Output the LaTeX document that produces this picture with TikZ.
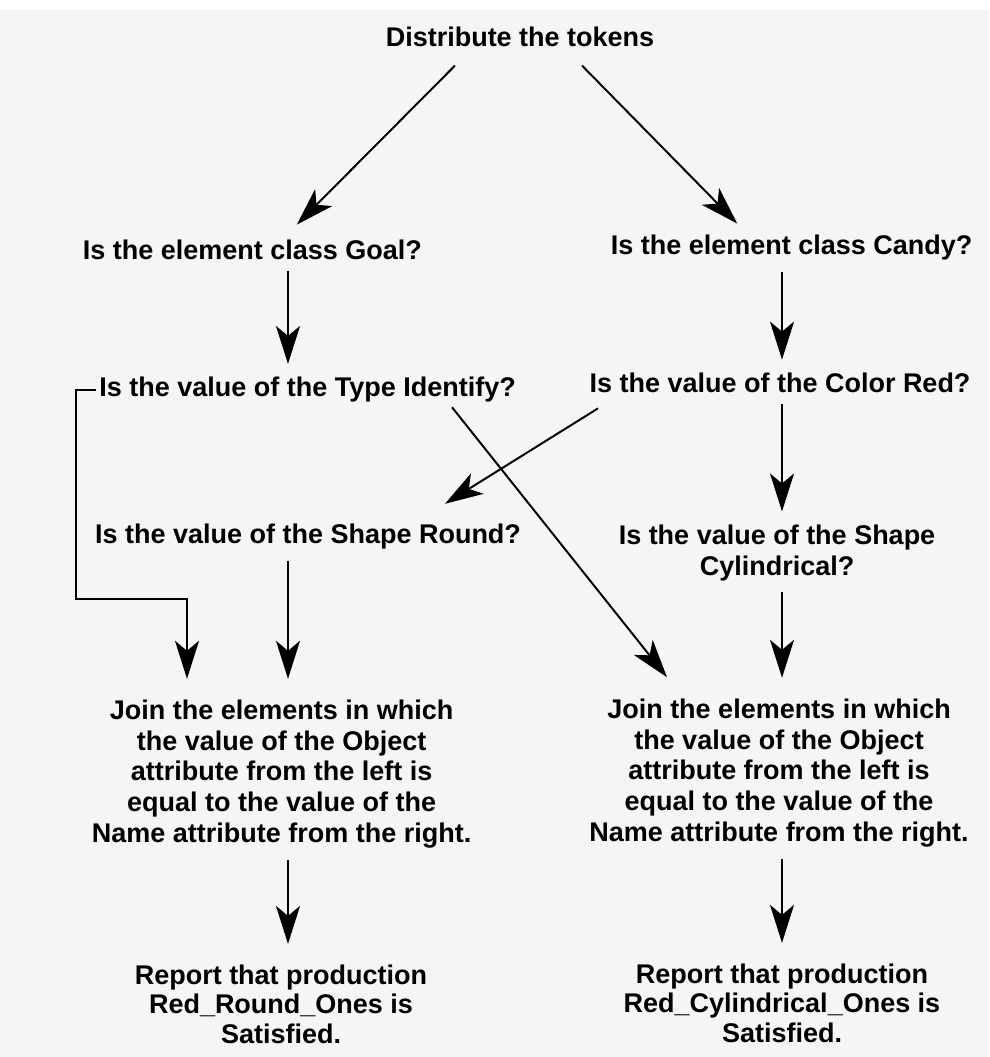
\documentclass[tikz,border=0pt]{standalone}
\usepackage{fontspec}
\setmainfont{Liberation Sans}
\usetikzlibrary{arrows.meta}

\begin{document}
\begin{tikzpicture}[
    >={Stealth[length=0.95cm, width=0.6cm, inset=0.25cm]},
    % Node styles
    stepbox/.style={
        inner sep=0.15cm, align=center,
        font=\bfseries\fontsize{19.2}{22}\selectfont
    },
    reportbox/.style={
        stepbox, font=\bfseries\fontsize{19.2}{21}\selectfont
    },
    flow/.style={->, line width=1.4pt},
    vflow/.style={flow, shorten <=0.12cm, shorten >=0.18cm},
    intojoin/.style={vflow, shorten >=0.36cm},
]

%% ---- PAPER ----
\useasboundingbox (0,0) rectangle (24.725,-26.425);
\fill[black!4] (0,-0.25) rectangle (24.725,-26.425);

%% ---- TOP ----
\node[stepbox] (tokens) at (13.0, -0.925) {Distribute the tokens};

%% ---- LEFT COLUMN: Goal ----
\node[stepbox] (goal)    at (6.31, -6.25)  {Is the element class Goal?};
\node[stepbox] (type)    at (7.69, -9.75)  {Is the value of the Type Identify?};
\node[stepbox] (round)   at (7.7, -13.425) {Is the value of the Shape Round?};
\node[stepbox] (joinL)   at (7.04, -19.35) {Join the elements in which\\the value of the Object\\attribute from the left is\\equal to the value of the\\Name attribute from the right.};
\node[reportbox] (reportL) at (7.025, -25.1) {Report that production\\Red\_Round\_Ones is\\Satisfied.};

%% ---- RIGHT COLUMN: Candy ----
\node[stepbox] (candy)   at (19.79, -6.2)    {Is the element class Candy?};
\node[stepbox] (color)   at (19.5, -9.575)   {Is the value of the Color Red?};
\node[stepbox] (cyl)     at (19.425, -13.825) {Is the value of the Shape\\Cylindrical?};
\node[stepbox] (joinR)   at (19.475, -19.325) {Join the elements in which\\the value of the Object\\attribute from the left is\\equal to the value of the\\Name attribute from the right.};
\node[reportbox] (reportR) at (19.55, -25.075) {Report that production\\Red\_Cylindrical\_Ones is\\Satisfied.};

%% ---- helper coordinates ----
\coordinate (lcol)  at (7.2, 0);
\coordinate (rcol)  at (19.55, 0);
\coordinate (loopA) at (1.9, -14.975);
\coordinate (loopB) at (4.675, -14.975);

%% ---- ARROWS ----
% tokens -> both classes
\draw[flow] ([shift={(-1.625cm,-0.31cm)}]tokens.south) -- ([shift={(1.11cm,0.23cm)}]goal.north);
\draw[flow] ([shift={(1.55cm,-0.31cm)}]tokens.south) -- ([shift={(-1.36cm,0.14cm)}]candy.north);

% left column
\draw[vflow] (goal.south -| lcol) -- (type.north -| lcol);
\draw[intojoin] (round.south -| lcol) -- (joinL.north -| lcol);
\draw[intojoin] (joinL.south -| lcol) -- (reportL.north -| lcol);

% Type -> left join (bracket)
\draw[flow, shorten >=0.36cm] ([xshift=0.08cm]type.west) -| (loopA) -- (loopB) -- (loopB |- joinL.north);

% right column
\draw[vflow] (candy.south -| rcol) -- (color.north -| rcol);
\draw[vflow] (color.south -| rcol) -- (cyl.north -| rcol);
\draw[intojoin] (cyl.south -| rcol) -- (joinR.north -| rcol);
\draw[intojoin] (joinR.south -| rcol) -- (reportR.north -| rcol);

% crossing arrows
\draw[flow] ([shift={(-4.55cm,-0.23cm)}]color.south) -- ([shift={(3.425cm,0.36cm)}]round.north);
\draw[flow] ([shift={(3.61cm,0.04cm)}]type.south) -- ([shift={(-2.8cm,0.375cm)}]joinR.north);

\end{tikzpicture}
\end{document}
